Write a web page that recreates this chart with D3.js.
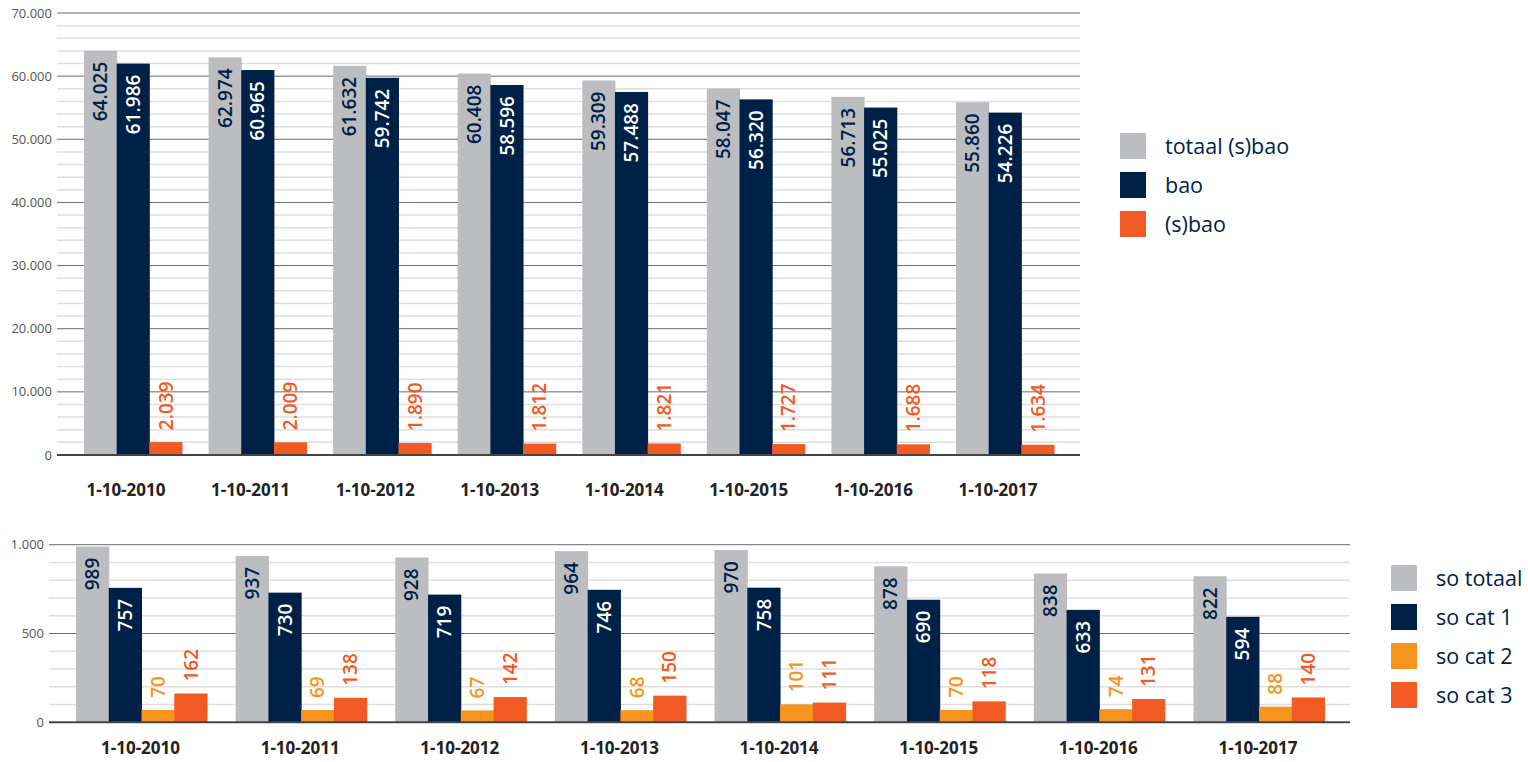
<!DOCTYPE html>
<html><head><meta charset="utf-8">
<script src="https://cdn.jsdelivr.net/npm/d3@7"></script>
<style>body{margin:0;background:#fff;font-family:"Open Sans",sans-serif}</style>
</head><body><svg id="c" width="1528" height="762"></svg>
<script>
const dates = ["1-10-2010","1-10-2011","1-10-2012","1-10-2013","1-10-2014","1-10-2015","1-10-2016","1-10-2017"];
const topSeries = ["totaal (s)bao","bao","(s)bao"];
const totaalSbao = [64025,62974,61632,60408,59309,58047,56713,55860];
const bao = [61986,60965,59742,58596,57488,56320,55025,54226];
const sbao = [2039,2009,1890,1812,1821,1727,1688,1634];
const topTicks = [0,10000,20000,30000,40000,50000,60000,70000];
const botSeries = ["so totaal","so cat 1","so cat 2","so cat 3"];
const soTotaal = [989,937,928,964,970,878,838,822];
const soCat1 = [757,730,719,746,758,690,633,594];
const soCat2 = [70,69,67,68,101,70,74,88];
const soCat3 = [162,138,142,150,111,118,131,140];
const botTicks = [0,500,1000];

const GRAY="#bcbdc1", NAVY="#002147", ORANGE="#f15a22", LORANGE="#f7941d";
const loc = d3.formatLocale({decimal:",",thousands:".",grouping:[3],currency:["€",""]});
const fmt = loc.format(",d");
const svg = d3.select("#c");

function chart(o){
  const g = svg.append("g");
  const y = d3.scaleLinear().domain([0,o.max]).range([o.y0,o.y1]);
  const x0 = d3.scaleBand().domain(dates).range(o.xr).paddingInner(o.pad).paddingOuter(o.pad/2);
  const x1 = d3.scaleBand().domain(o.series.map((d,i)=>i)).range([0,x0.bandwidth()]);
  g.append("g").selectAll("line").data(d3.range(0,o.max+1e-9,o.minor).filter(v=>v%o.major!==0))
    .join("line").attr("x1",o.gx[0]).attr("x2",o.gx[1]).attr("y1",d=>y(d)).attr("y2",d=>y(d))
    .attr("stroke","#dedede").attr("stroke-width",1.5);
  g.append("g").selectAll("line").data(o.ticks.filter(v=>v>0))
    .join("line").attr("x1",o.gx[0]).attr("x2",o.gx[1]).attr("y1",d=>y(d)).attr("y2",d=>y(d))
    .attr("stroke","#6a6a6a").attr("stroke-width",1);
  g.append("g").selectAll("text").data(o.ticks).join("text")
    .attr("x",o.gx[0]-5).attr("y",d=>y(d)).attr("dy","0.35em").attr("text-anchor","end")
    .attr("font-size",13).attr("fill","#555").text(d=>fmt(d));
  o.values.forEach((vals,si)=>{
    const gg = g.append("g");
    gg.selectAll("rect").data(vals).join("rect")
      .attr("x",(d,i)=>x0(dates[i])+x1(si)).attr("width",x1.bandwidth()+0.5)
      .attr("y",d=>y(d)).attr("height",d=>y(0)-y(d)).attr("fill",o.colors[si]);
    const inside = si<2;
    gg.selectAll("text").data(vals).join("text")
      .attr("transform",(d,i)=>{
        const cx = x0(dates[i])+x1(si)+x1.bandwidth()/2;
        const ty = inside ? y(d)+11 : y(d)-12;
        return `translate(${cx},${ty}) rotate(-90)`;
      })
      .attr("text-anchor",inside?"end":"start").attr("dy","0.36em")
      .attr("font-size",19).attr("font-weight",600)
      .attr("fill",si===0?NAVY:si===1?"#fff":o.colors[si]).text(d=>fmt(d));
  });
  g.append("line").attr("x1",o.gx[0]).attr("x2",o.gx[1]).attr("y1",y(0)).attr("y2",y(0))
    .attr("stroke","#444").attr("stroke-width",2);
  g.append("g").selectAll("text").data(dates).join("text")
    .attr("x",d=>x0(d)+x0.bandwidth()/2+o.lblShift).attr("y",o.lblY).attr("text-anchor","middle")
    .attr("font-size",17).attr("font-weight",700).attr("fill","#222").text(d=>d);
  const lg = g.append("g");
  o.series.forEach((s,i)=>{
    lg.append("rect").attr("x",o.lx).attr("y",o.ly+i*39).attr("width",26).attr("height",26).attr("fill",o.colors[i]);
    lg.append("text").attr("x",o.lx+45).attr("y",o.ly+i*39+13).attr("dy","0.36em")
      .attr("font-size",21.5).attr("fill",NAVY).text(s);
  });
}

chart({series:topSeries, values:[totaalSbao,bao,sbao], colors:[GRAY,NAVY,ORANGE],
  max:70000, minor:2000, major:10000, ticks:topTicks, y0:455, y1:13,
  xr:[70.7,1067.3], pad:0.213, gx:[57,1080], lblY:496, lblShift:-7, lx:1120, ly:133});
chart({series:botSeries, values:[soTotaal,soCat1,soCat2,soCat3], colors:[GRAY,NAVY,LORANGE,ORANGE],
  max:1000, minor:100, major:500, ticks:botTicks, y0:722.3, y1:544.7,
  xr:[61.7,1338.8], pad:0.179, gx:[49,1350], lblY:754, lblShift:-1, lx:1391, ly:565});
</script></body></html>
